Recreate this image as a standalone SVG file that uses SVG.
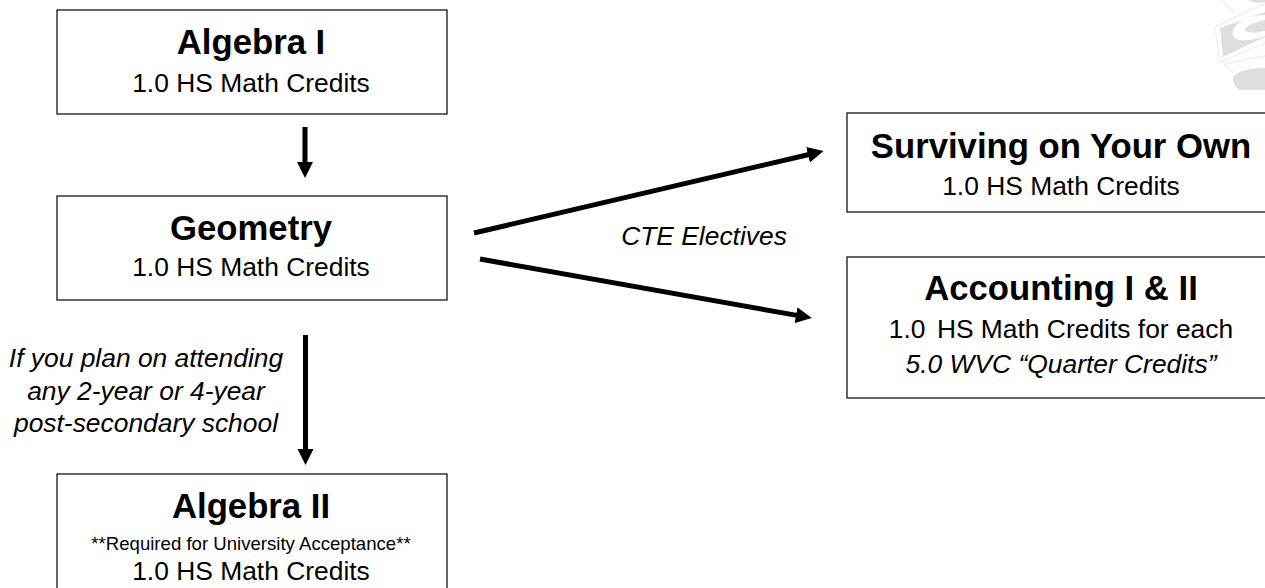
<svg xmlns="http://www.w3.org/2000/svg" width="1265" height="588" viewBox="0 0 1265 588">
<style>
text{font-family:"Liberation Sans",Arial,sans-serif;fill:#000;text-anchor:middle}
.box{fill:#fff;stroke:#000;stroke-width:1.2}
.t{font-size:34.7px;font-weight:bold}
.s{font-size:26.4px}
.i{font-size:26.4px;font-style:italic}
.c{stroke:#000;stroke-width:5;fill:none}
.logo{fill:#dedede}
.ol{fill:none;stroke:#f0f0f0;stroke-width:1.5}
</style>
<defs>
<marker id="a" markerUnits="userSpaceOnUse" markerWidth="16" markerHeight="17" refX="1" refY="8" orient="auto"><path d="M0 0L16 8L0 16Z" fill="#000"/></marker>
</defs>
<g id="logo">
<path class="ol" d="M1215 27L1265 3M1215 27L1220 62L1265 43M1224 64L1265 56M1222 62L1233 72M1222 0L1236 14"/>
<path class="logo" d="M1220 28L1265 12V37L1223 57Z"/>
<path d="M1265 15Q1240 16 1233 30Q1231 38 1240 40Q1252 41 1265 36V31Q1250 35 1245 30Q1246 24 1265 20Z" fill="#fff"/>
<path class="logo" d="M1233 78Q1238 68 1265 68V90H1240Q1233 86 1233 78Z"/>
<path class="logo" d="M1248 0H1265V2Q1255 4 1248 0Z"/>
</g>
<g id="connectors">
<line class="c" x1="305" y1="127" x2="305" y2="163" marker-end="url(#a)"/>
<line class="c" x1="305.500" y1="335" x2="305.500" y2="450" marker-end="url(#a)"/>
<line class="c" x1="474" y1="233" x2="809" y2="154.500" marker-end="url(#a)"/>
<line class="c" x1="480" y1="259" x2="797" y2="315.400" marker-end="url(#a)"/>
</g>
<g id="algebra1"><rect class="box" x="57" y="10" width="390" height="104"/><text class="t" x="251" y="54">Algebra I</text><text class="s" x="251" y="92">1.0 HS Math Credits</text></g>
<g id="geometry"><rect class="box" x="57" y="196" width="390" height="104"/><text class="t" x="251" y="240">Geometry</text><text class="s" x="251" y="276">1.0 HS Math Credits</text></g>
<g id="algebra2"><rect class="box" x="57" y="474" width="390" height="116"/><text class="t" x="251" y="518">Algebra II</text><text x="251" y="550" font-size="18.600">**Required for University Acceptance**</text><text class="s" x="251" y="580">1.0 HS Math Credits</text></g>
<g id="surviving"><rect class="box" x="847" y="113" width="420" height="99"/><text class="t" x="1061" y="158">Surviving on Your Own</text><text class="s" x="1061" y="195">1.0 HS Math Credits</text></g>
<g id="accounting"><rect class="box" x="847" y="257" width="420" height="141"/><text class="t" x="1061" y="300">Accounting I &amp; II</text><text class="s" x="1061" y="338">1.0 <tspan dx="4">HS Math Credits for each</tspan></text><text class="i" x="1061" y="373">5.0 WVC “Quarter Credits”</text></g>
<g id="labels"><text class="i" x="704" y="245">CTE Electives</text><text class="i" x="146" y="367">If you plan on attending</text><text class="i" x="146" y="400">any 2-year or 4-year</text><text class="i" x="146" y="432">post-secondary school</text></g>
</svg>
